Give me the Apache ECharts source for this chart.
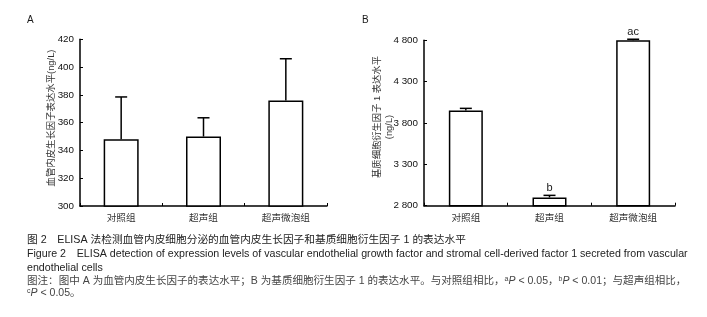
<!DOCTYPE html>
<html>
<head>
<meta charset="utf-8">
<script src="https://cdn.jsdelivr.net/npm/echarts@6/dist/echarts.min.js"></script>
<style>
html,body{margin:0;padding:0;background:#fff;}
#c{width:707px;height:317px;}
</style>
</head>
<body>
<div id="c"></div>
<script>
const categories = ['对照组', '超声组', '超声微泡组'];
// Panel A: VEGF (ng/L)
const meanA = [348, 350, 376];
const upperA = [378.5, 363.5, 406];
const sigA = ['', '', ''];
const ticksA = [300, 320, 340, 360, 380, 400, 420];
// Panel B: SDF-1 (ng/L)
const meanB = [3952, 2900, 4800];
const upperB = [3977, 2925, 4813];
const sigB = ['', 'b', 'ac'];
const ticksB = [2800, 3300, 3800, 4300, 4800];

const FONT = "'Liberation Sans', Arial, 'Noto Sans CJK SC', sans-serif";
const TXT = '#1a1a1a';

function fmtB(v){
  if (v >= 1000) return Math.floor(v/1000) + ' ' + String(v % 1000).padStart(3, '0');
  return String(v);
}

function errRender(sig, capW){
  return function(params, api){
    const x = api.value(0);
    const p0 = api.coord([x, api.value(1)]);
    const p1 = api.coord([x, api.value(2)]);
    const st = {stroke:'#000', lineWidth:1.5};
    const children = [
      {type:'line', shape:{x1:p0[0], y1:p0[1], x2:p1[0], y2:p1[1]}, style:st},
      {type:'line', shape:{x1:p1[0]-capW/2, y1:p1[1], x2:p1[0]+capW/2, y2:p1[1]}, style:st}
    ];
    const s = sig[params.dataIndex];
    if (s) {
      children.push({type:'text', x:p1[0], y:p1[1]-2, style:{text:s, fill:TXT, font:'11px ' + FONT, align:'center', verticalAlign:'bottom'}});
    }
    return {type:'group', children};
  };
}

const axisLine = {lineStyle:{color:'#000', width:1.5}};
function xAxis(gi){
  return {
    type:'category', gridIndex:gi, data:categories,
    axisLine: axisLine,
    axisTick:{show:true, inside:true, length:3, alignWithLabel:false, lineStyle:{color:'#000', width:1}},
    axisLabel:{color:'#333', fontSize:9.6, fontFamily:FONT, margin:8},
    splitLine:{show:false}
  };
}
function yAxis(gi, ticks, fmt){
  return {
    type:'value', gridIndex:gi,
    min:ticks[0], max:ticks[ticks.length-1], interval:ticks[1]-ticks[0],
    axisLine: Object.assign({show:true}, axisLine),
    axisTick:{show:true, inside:true, length:3, lineStyle:{color:'#000', width:1}},
    axisLabel:{color:'#111', fontSize:9.8, fontFamily:FONT, margin:6, formatter: fmt},
    splitLine:{show:false}
  };
}

const noteRich = {
  sup:{fontSize:7, verticalAlign:'top', fill:'#444', padding:[0,0,4,0], fontFamily:FONT},
  i:{fontStyle:'italic', fontSize:10.5, fill:'#444', fontFamily:FONT}
};

const chart = echarts.init(document.getElementById('c'), null, {renderer:'canvas'});
chart.setOption({
  backgroundColor:'#fff',
  animation:false,
  grid:[
    {left:80, top:39.3, width:247, height:166.7},
    {left:424, top:40.3, width:251, height:165.4}
  ],
  xAxis:[xAxis(0), xAxis(1)],
  yAxis:[yAxis(0, ticksA, v => String(v)), yAxis(1, ticksB, fmtB)],
  series:[
    {type:'bar', xAxisIndex:0, yAxisIndex:0, data:meanA, barWidth:35,
     itemStyle:{color:'#fff', borderColor:'#000', borderWidth:1.5}, silent:true},
    {type:'custom', xAxisIndex:0, yAxisIndex:0, renderItem:errRender(sigA, 12),
     encode:{x:0, y:[1,2]}, data:meanA.map((m,i)=>[i, m, upperA[i]]), z:3, silent:true},
    {type:'bar', xAxisIndex:1, yAxisIndex:1, data:meanB, barWidth:34,
     itemStyle:{color:'#fff', borderColor:'#000', borderWidth:1.5}, silent:true},
    {type:'custom', xAxisIndex:1, yAxisIndex:1, renderItem:errRender(sigB, 12),
     encode:{x:0, y:[1,2]}, data:meanB.map((m,i)=>[i, m, upperB[i]]), z:3, silent:true}
  ],
  graphic:[
    {type:'text', left:27, top:15, style:{text:'A', fill:TXT, font:'10px ' + FONT}},
    {type:'text', left:362, top:15, style:{text:'B', fill:TXT, font:'10px ' + FONT}},
    {type:'text', x:51, y:118, rotation:Math.PI/2,
     style:{text:'血管内皮生长因子表达水平(ng/L)', fill:'#333', font:'9.4px ' + FONT, align:'center', verticalAlign:'middle'}},
    {type:'text', x:377, y:117, rotation:Math.PI/2,
     style:{text:'基质细胞衍生因子 1 表达水平', fill:'#333', font:'9.3px ' + FONT, align:'center', verticalAlign:'middle'}},
    {type:'text', x:389, y:127, rotation:Math.PI/2,
     style:{text:'(ng/L)', fill:'#333', font:'9.3px ' + FONT, align:'center', verticalAlign:'middle'}},
    {type:'text', x:27, y:240, style:{text:'图 2　ELISA 法检测血管内皮细胞分泌的血管内皮生长因子和基质细胞衍生因子 1 的表达水平', fill:'#222', font:'10.7px ' + FONT, verticalAlign:'middle'}},
    {type:'text', x:27, y:254, style:{text:'Figure 2　ELISA detection of expression levels of vascular endothelial growth factor and stromal cell-derived factor 1 secreted from vascular', fill:'#222', font:'10.65px ' + FONT, verticalAlign:'middle'}},
    {type:'text', x:27, y:268, style:{text:'endothelial cells', fill:'#222', font:'10.65px ' + FONT, verticalAlign:'middle'}},
    {type:'text', x:27, y:281, style:{
      text:'图注：图中 A 为血管内皮生长因子的表达水平；B 为基质细胞衍生因子 1 的表达水平。与对照组相比，{sup|a}{i|P} < 0.05，{sup|b}{i|P} < 0.01；与超声组相比，',
      fill:'#444', font:'10.55px ' + FONT, verticalAlign:'middle', rich:noteRich}},
    {type:'text', x:27, y:293, style:{
      text:'{sup|c}{i|P} < 0.05。',
      fill:'#444', font:'10.55px ' + FONT, verticalAlign:'middle', rich:noteRich}}
  ]
});
</script>
</body>
</html>
